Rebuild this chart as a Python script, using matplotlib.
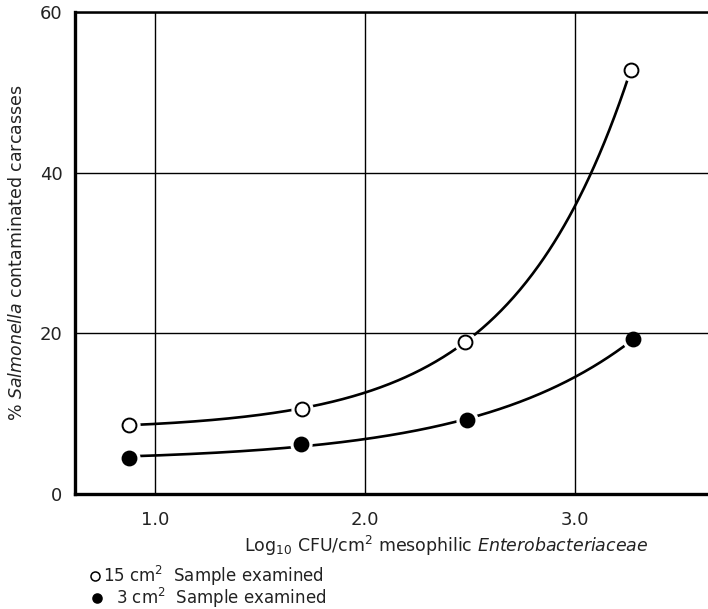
import numpy as np
import matplotlib
matplotlib.use("Agg")
import matplotlib.pyplot as plt
from matplotlib.lines import Line2D

plt.rcParams["font.family"] = ["DejaVu Sans"]
plt.rcParams["mathtext.fontset"] = "dejavusans"

# log10 CFU/cm2 mesophilic Enterobacteriaceae
log_cfu_15 = [0.876, 1.70, 2.476, 3.267]
pct_15 = [8.6, 10.6, 18.9, 52.8]
log_cfu_3 = [0.876, 1.695, 2.486, 3.28]
pct_3 = [4.5, 6.2, 9.2, 19.3]

xticks = [1.0, 2.0, 3.0]
yticks = [0, 20, 40, 60]

W, H = 708, 609
INK = "#222222"


def exp_curve(x, y, n=400):
    """Least-squares y = a + b*exp(c*x), scanning c and solving a, b."""
    x, y = np.asarray(x, float), np.asarray(y, float)
    best = None
    for c in np.linspace(0.2, 4.0, 761):
        A = np.column_stack([np.ones_like(x), np.exp(c * x)])
        coef, *_ = np.linalg.lstsq(A, y, rcond=None)
        err = np.sum((A @ coef - y) ** 2)
        if best is None or err < best[0]:
            best = (err, c, coef)
    _, c, (a, b) = best
    xs = np.linspace(x[0], x[-1], n)
    return xs, a + b * np.exp(c * xs)


fig = plt.figure(figsize=(W / 100, H / 100), dpi=100)
ax = fig.add_axes([0.106, 0.189, 0.894, 0.791])

for xs, ys, face in [(log_cfu_15, pct_15, "white"), (log_cfu_3, pct_3, "black")]:
    cx, cy = exp_curve(xs, ys)
    ax.plot(cx, cy, color="black", lw=1.9, zorder=1.5, solid_capstyle="butt")
    # white halo leaves a small gap between curve and marker
    ax.plot(xs, ys, ls="none", marker="o", ms=15, mfc="white", mec="white",
            zorder=2.2, clip_on=False)
    ax.plot(xs, ys, ls="none", marker="o", ms=10, mfc=face, mec="black",
            mew=1.4, zorder=3, clip_on=False)

ax.set_xlim(0.62, 3.635)
ax.set_ylim(0, 60)
ax.set_xticks(xticks)
ax.set_xticklabels([f"{v:.1f}" for v in xticks])
ax.set_yticks(yticks)
ax.set_yticklabels([str(v) for v in yticks])
ax.tick_params(length=0, labelsize=13, colors=INK)
ax.tick_params(axis="x", pad=12)
ax.tick_params(axis="y", pad=9)

ax.set_axisbelow(False)
ax.grid(True, color="black", lw=1.0)
for s in ["left", "bottom"]:
    ax.spines[s].set_linewidth(2.4)
ax.spines["top"].set_linewidth(1.8)
ax.spines["right"].set_visible(False)

ax.set_xlabel(r"Log$_{10}$ CFU/cm$^{2}$ mesophilic $\it{Enterobacteriaceae}$",
              fontsize=12.5, labelpad=4, color=INK)
ax.xaxis.label.set_x((446 - 75) / 633)
ax.set_ylabel(r"% $\it{Salmonella}$ contaminated carcasses", fontsize=12.5,
              labelpad=10, color=INK)

# key below the plot: marker + text, laid out in figure pixels
key = [
    ("white", 95, 576, 103, r"15 cm$^{2}$  Sample examined"),
    ("black", 97, 598, 116, r"3 cm$^{2}$  Sample examined"),
]
for face, mx, my, tx, label in key:
    fig.add_artist(Line2D([mx / W], [1 - my / H], transform=fig.transFigure,
                          ls="none", marker="o", ms=6.5, mfc=face, mec="black",
                          mew=1.1))
    fig.text(tx / W, 1 - my / H, label, fontsize=12, color=INK,
             ha="left", va="center")

fig.savefig("out.png", dpi=100)
